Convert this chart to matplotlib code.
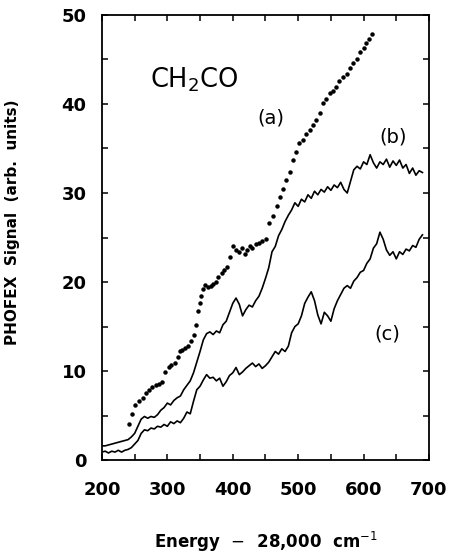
import matplotlib.pyplot as plt
from matplotlib.ticker import MultipleLocator
import numpy as np

# energy grid for the two traces (cm-1 above 28,000)
energy_line = np.arange(200, 695, 5)

# trace (b)
signal_b = [1.6, 1.6, 1.7, 1.8, 1.9, 2.0, 2.1, 2.2, 2.3, 2.6,
            3.0, 3.8, 4.6, 4.9, 4.7, 4.9, 4.8, 5.1, 5.6, 5.9,
            6.4, 6.2, 6.7, 7.0, 7.2, 7.9, 8.4, 8.9, 9.8, 11.0,
            12.2, 13.5, 14.2, 14.4, 14.1, 14.5, 14.3, 15.2, 15.6, 16.6,
            17.6, 18.2, 17.5, 16.2, 16.9, 17.4, 17.2, 17.9, 18.4, 19.3,
            20.4, 21.6, 23.4, 24.0, 25.2, 25.9, 26.8, 27.5, 28.1, 28.9,
            28.5, 29.3, 29.0, 29.8, 29.4, 30.2, 29.8, 30.4, 30.1, 30.7,
            30.3, 30.9, 30.6, 31.2, 30.4, 30.0, 31.3, 32.6, 33.0, 32.7,
            33.5, 33.2, 34.3, 33.4, 32.8, 33.5, 33.2, 33.8, 32.9, 33.6,
            33.1, 33.7, 32.8, 33.2, 32.2, 32.8, 32.0, 32.5, 32.3]

# trace (c)
signal_c = [0.9, 1.0, 0.8, 1.0, 0.9, 1.1, 0.9, 1.1, 1.2, 1.4,
            1.8, 2.2, 3.0, 3.4, 3.3, 3.6, 3.5, 3.8, 3.7, 4.0,
            3.8, 4.3, 4.1, 4.4, 4.2, 4.7, 5.4, 5.2, 6.6, 7.9,
            8.3, 9.0, 9.6, 9.2, 9.3, 8.9, 9.2, 8.3, 8.8, 9.5,
            9.8, 10.4, 9.6, 9.9, 10.3, 10.6, 10.9, 10.5, 10.8, 10.3,
            10.6, 11.0, 11.6, 12.2, 11.9, 12.5, 12.2, 12.8, 14.3, 15.0,
            15.3, 16.2, 17.6, 18.3, 18.9, 17.9, 16.3, 15.3, 16.6, 16.2,
            15.6, 17.0, 17.9, 18.6, 19.3, 19.6, 19.3, 20.1, 20.5, 21.1,
            21.3, 22.1, 22.6, 23.8, 24.3, 25.6, 24.8, 23.6, 23.0, 23.4,
            22.6, 23.4, 23.1, 23.7, 23.5, 24.1, 23.9, 24.8, 25.3]

# trace (a), dotted points
energy_a = [241, 246, 251, 256, 263, 268, 272, 277, 282, 287,
            292, 297, 302, 306, 312, 316, 320, 323, 327, 332,
            336, 340, 344, 347, 350, 352, 355, 358, 362, 366,
            370, 374, 378, 383, 387, 391, 396, 401, 405, 410,
            414, 418, 422, 426, 430, 435, 440, 445, 451, 456,
            461, 467, 472, 477, 482, 487, 492, 497, 502, 507,
            512, 518, 523, 528, 533, 538, 543, 548, 553, 558,
            563, 568, 574, 579, 584, 590, 595, 600, 603, 608, 613]
signal_a = [4.0, 5.2, 6.2, 6.6, 7.0, 7.5, 7.9, 8.2, 8.4, 8.6,
            8.8, 9.9, 10.5, 10.7, 10.9, 11.6, 12.2, 12.4, 12.6, 12.8,
            13.4, 14.0, 15.2, 16.7, 17.6, 18.4, 19.2, 19.7, 19.4, 19.6,
            19.8, 20.0, 20.6, 21.0, 21.4, 21.7, 22.8, 24.0, 23.6, 23.4,
            23.8, 23.2, 23.6, 24.1, 23.8, 24.3, 24.4, 24.6, 24.8, 26.6,
            27.4, 28.5, 29.6, 30.5, 31.5, 32.4, 33.7, 34.6, 35.6, 36.0,
            36.6, 37.1, 37.6, 38.2, 39.0, 40.1, 40.6, 41.2, 41.5, 41.9,
            42.6, 43.0, 43.4, 44.0, 44.6, 45.1, 45.8, 46.3, 46.8, 47.3, 47.9]

plt.rcParams['font.family'] = ['DejaVu Sans']

fig = plt.figure(figsize=(4.53, 5.53), dpi=100)
ax = fig.add_axes([0.225, 0.168, 0.722, 0.805])

ax.plot(energy_a, signal_a, 'o', color='black', markersize=2.2)
ax.plot(energy_line, signal_b, color='black', linewidth=1.2)
ax.plot(energy_line, signal_c, color='black', linewidth=1.2)

ax.set_xlim(200, 700)
ax.set_ylim(0, 50)
ax.xaxis.set_major_locator(MultipleLocator(100))
ax.xaxis.set_minor_locator(MultipleLocator(50))
ax.yaxis.set_major_locator(MultipleLocator(10))
ax.yaxis.set_minor_locator(MultipleLocator(5))
ax.tick_params(which='both', direction='in', top=True, right=True, length=4, width=1.1)
ax.tick_params(axis='x', pad=15, labelsize=13)
ax.tick_params(axis='y', pad=11, labelsize=13)
for lab in ax.get_xticklabels() + ax.get_yticklabels():
    lab.set_fontweight('bold')
for sp in ax.spines.values():
    sp.set_linewidth(1.3)

ax.text(273, 42.7, 'CH$_2$CO', fontsize=18.5, va='center', ha='left')
ax.text(458, 38.4, '(a)', fontsize=14, va='center', ha='center')
ax.text(645, 36.3, '(b)', fontsize=14, va='center', ha='center')
ax.text(637, 14.2, '(c)', fontsize=14, va='center', ha='center')

ax.set_ylabel('PHOFEX  Signal  (arb.  units)', fontsize=11, fontweight='bold')
ax.yaxis.set_label_coords(-0.25, 0.535)
ax.set_xlabel('Energy  $-$  28,000  cm$^{-1}$', fontsize=12, fontweight='bold', labelpad=22)

plt.savefig('out.png', dpi=100)
